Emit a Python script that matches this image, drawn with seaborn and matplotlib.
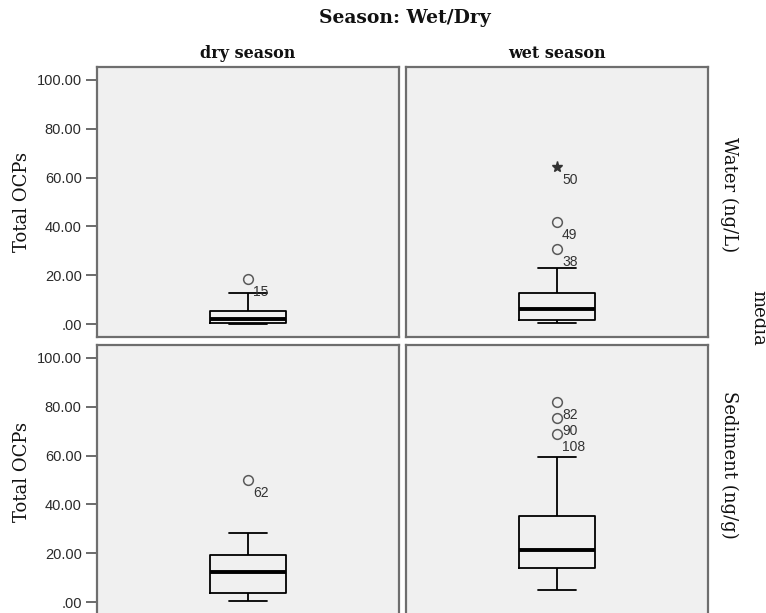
import numpy as np
import pandas as pd
import matplotlib
matplotlib.use("Agg")
import matplotlib.pyplot as plt
import seaborn as sns

# ---------------- data ----------------
seasons = ["dry season", "wet season"]
media = ["Water (ng/L)", "Sediment (ng/g)"]

water_dry = [0.1, 0.3, 0.5, 1.2, 2.0, 3.5, 5.5, 12.6, 18.4]
water_wet = [0.4, 0.8, 1.0, 1.3, 1.6, 2.5, 3.5, 5.0, 6.1, 7.5, 9.0, 11.0, 12.8,
             22.9, 30.6, 41.8, 64.5]
sediment_dry = [0.4, 2.0, 3.7, 8.0, 12.4, 16.0, 19.3, 28.4, 49.9]
sediment_wet = [5.0, 8.0, 10.0, 12.0, 13.9, 16.0, 18.0, 20.0, 21.4, 24.0, 28.0,
                32.0, 35.2, 59.3, 69.0, 75.4, 81.8]

# case numbers of the outlying points (in ascending value order)
water_dry_cases = ["15"]
water_wet_cases = ["38", "49", "50"]
sediment_dry_cases = ["62"]
sediment_wet_cases = ["108", "90", "82"]

ytick_values = [0, 20, 40, 60, 80, 100]
ytick_labels = [".00", "20.00", "40.00", "60.00", "80.00", "100.00"]

title = "Season: Wet/Dry"
ylabel = "Total OCPs"
row_title = "media"

groups = {
    ("Water (ng/L)", "dry season"): (water_dry, water_dry_cases),
    ("Water (ng/L)", "wet season"): (water_wet, water_wet_cases),
    ("Sediment (ng/g)", "dry season"): (sediment_dry, sediment_dry_cases),
    ("Sediment (ng/g)", "wet season"): (sediment_wet, sediment_wet_cases),
}

# ---------------- style ----------------
sns.set_theme(style="white")
plt.rcParams["font.family"] = ["Liberation Sans", "DejaVu Sans"]
SERIF = ["DejaVu Serif"]
PANEL_BG = "#f0f0f0"
FRAME = "#6e6e6e"

W, H = 766, 613
fig = plt.figure(figsize=(W / 100, H / 100), dpi=100)
fig.patch.set_facecolor("white")

col_left = [97, 406]
col_width = 302
row_top = [67, 345]
row_height = 270
ylabel_offset = [0, -8]
rowlab_offset = [-7, -15]

for r, med in enumerate(media):
    for c, sea in enumerate(seasons):
        x0 = col_left[c] / W
        y0 = 1 - (row_top[r] + row_height) / H
        ax = fig.add_axes([x0, y0, col_width / W, row_height / H])
        ax.set_facecolor(PANEL_BG)
        vals, cases = groups[(med, sea)]
        df = pd.DataFrame({"value": vals})
        sns.boxplot(data=df, y="value", ax=ax, width=0.25, whis=1.5,
                    fill=False, color="black", linewidth=1.3,
                    showfliers=False,
                    boxprops=dict(color="black"),
                    whiskerprops=dict(color="black"),
                    capprops=dict(color="black"),
                    medianprops=dict(linewidth=2.8, color="black"))
        arr = np.asarray(vals)
        q1, q3 = np.percentile(arr, [25, 75])
        iqr = q3 - q1
        out = np.sort(arr[(arr > q3 + 1.5 * iqr) | (arr < q1 - 1.5 * iqr)])
        for v, case in zip(out, cases):
            if v > q3 + 3 * iqr:
                ax.plot([0], [v], marker="*", ms=8, color="#333333",
                        mec="#333333", linestyle="none", zorder=5)
            else:
                ax.plot([0], [v], marker="o", ms=7, mfc="none",
                        mec="#5a5a5a", mew=1.1, linestyle="none", zorder=5)
            ax.annotate(case, (0, v), xytext=(5, -13),
                        textcoords="offset pixels", ha="left", va="center",
                        fontsize=10, color="#333333")
        ax.set_xlim(-0.5, 0.5)
        ax.set_ylim(-5.3, 105.3)
        ax.set_xticks([])
        ax.set_xlabel("")
        ax.set_ylabel("")
        for sp in ax.spines.values():
            sp.set_visible(True)
            sp.set_color(FRAME)
            sp.set_linewidth(1.6)
        if c == 0:
            ax.set_yticks(ytick_values)
            ax.set_yticklabels(ytick_labels)
            ax.tick_params(axis="y", left=True, length=8, width=1.1,
                           color="#444444", pad=3, labelsize=10.5,
                           labelcolor="#2a2a2a")
        else:
            ax.set_yticks([])
            ax.tick_params(axis="y", left=False, labelleft=False)

        if r == 0:
            fig.text((col_left[c] + col_width / 2) / W, 1 - 53 / H, sea,
                     ha="center", va="center", fontsize=11.5,
                     fontweight="bold", family=SERIF, color="#111111")
        if c == 0:
            fig.text(22 / W,
                     1 - (row_top[r] + row_height / 2 + ylabel_offset[r]) / H,
                     ylabel, ha="center", va="center", rotation=90,
                     fontsize=13, family=SERIF, color="#111111")
        if c == 1:
            fig.text(729 / W,
                     1 - (row_top[r] + row_height / 2 + rowlab_offset[r]) / H,
                     med, ha="center", va="center", rotation=-90,
                     fontsize=13, family=SERIF, color="#111111")

fig.text(405 / W, 1 - 18 / H, title, ha="center", va="center",
         fontsize=13.5, fontweight="bold", family=SERIF, color="#111111")
fig.text(758 / W, 1 - 318 / H, row_title, ha="center", va="center",
         rotation=-90, fontsize=13, family=SERIF, color="#111111")

fig.savefig("out.png", dpi=100, facecolor="white")
